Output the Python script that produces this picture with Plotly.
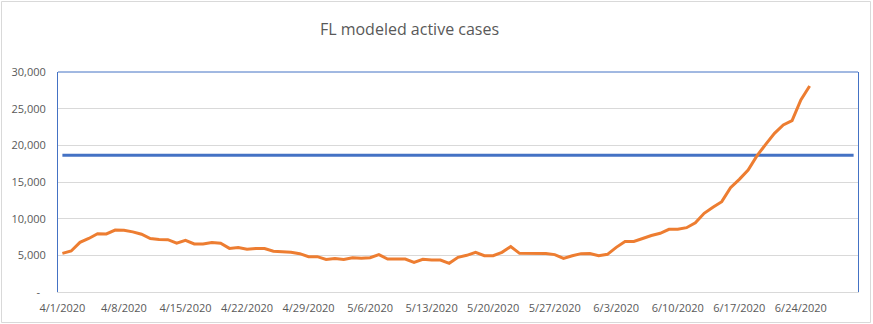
import pandas as pd
import plotly.graph_objects as go

# ---- data ----
start_date = "2020-04-01"
active_cases = [
    5270, 5590, 6770, 7300, 7940, 7910, 8440, 8410, 8200, 7880,
    7280, 7150, 7140, 6650, 7040, 6550, 6550, 6760, 6650, 5950,
    6060, 5830, 5930, 5920, 5560, 5540, 5420, 5230, 4820, 4820,
    4450, 4550, 4450, 4680, 4590, 4680, 5090, 4500, 4500, 4500,
    4050, 4450, 4360, 4360, 3910, 4730, 5000, 5410, 4950, 4950,
    5410, 6200, 5270, 5270, 5270, 5250, 5100, 4590, 4950, 5230,
    5250, 4950, 5140, 6090, 6900, 6900, 7290, 7700, 8000, 8550,
    8550, 8770, 9450, 10730, 11550, 12320, 14230, 15360, 16640, 18550,
    20140, 21640, 22770, 23360, 26180, 28090,
]
threshold_dates = ["2020-04-01", "2020-06-30"]
threshold_values = [18640, 18640]

y_tickvals = [0, 5000, 10000, 15000, 20000, 25000, 30000]
y_ticktext = ["-\u00a0\u00a0", "5,000", "10,000", "15,000", "20,000", "25,000", "30,000"]
x_tickvals = ["2020-04-01", "2020-04-08", "2020-04-15", "2020-04-22", "2020-04-29",
              "2020-05-06", "2020-05-13", "2020-05-20", "2020-05-27", "2020-06-03",
              "2020-06-10", "2020-06-17", "2020-06-24"]
x_ticktext = ["4/1/2020", "4/8/2020", "4/15/2020", "4/22/2020", "4/29/2020",
              "5/6/2020", "5/13/2020", "5/20/2020", "5/27/2020", "6/3/2020",
              "6/10/2020", "6/17/2020", "6/24/2020"]
title_text = "FL modeled active cases"

dates = pd.date_range(start_date, periods=len(active_cases), freq="D")

BLUE = "#4472C4"
ORANGE = "#ED7D31"
GRID = "#D9D9D9"
TEXT = "#595959"
FONT = "Open Sans"

fig = go.Figure()
fig.add_trace(go.Scatter(x=threshold_dates, y=threshold_values, mode="lines",
                         line=dict(color=BLUE, width=3), hoverinfo="skip"))
fig.add_trace(go.Scatter(x=dates, y=active_cases, mode="lines",
                         line=dict(color=ORANGE, width=3), hoverinfo="skip"))

L, R, T, B = 58, 15, 72, 32
W, H = 873, 324
pw, ph = W - L - R, H - T - B

def px(x):
    return (x - L) / pw

def py(y):
    return (H - B - y) / ph

fig.update_layout(
    width=W, height=H,
    margin=dict(l=L, r=R, t=T, b=B),
    paper_bgcolor="white", plot_bgcolor="white",
    showlegend=False,
    font=dict(family=FONT, color=TEXT, size=11),
    title=dict(text=title_text, x=409.5 / W, xref="container", xanchor="center",
               y=1 - 29 / H, yref="container", yanchor="middle",
               font=dict(family=FONT, size=16, color=TEXT)),
    xaxis=dict(range=["2020-03-31 12:00", "2020-06-30 12:00"],
               tickvals=x_tickvals, ticktext=x_ticktext, automargin=False,
               showgrid=False, zeroline=False,
               showline=True, linecolor=GRID, linewidth=1,
               ticks="", ticklabelstandoff=6,
               tickfont=dict(family=FONT, size=11, color=TEXT)),
    yaxis=dict(range=[0, 30000], tickvals=y_tickvals, ticktext=y_ticktext,
               automargin=False,
               showgrid=True, gridcolor=GRID, gridwidth=1, zeroline=False,
               showline=True, linecolor=BLUE, linewidth=1, mirror=True,
               ticks="", ticklabelstandoff=9,
               tickfont=dict(family=FONT, size=11, color=TEXT)),
    shapes=[
        dict(type="line", xref="paper", yref="paper", x0=0, x1=1, y0=1, y1=1,
             line=dict(color=BLUE, width=1)),
        dict(type="rect", xref="paper", yref="paper",
             x0=px(1.5), x1=px(870.5), y0=py(1.5), y1=py(322.5),
             line=dict(color=GRID, width=1), layer="below"),
    ],
)

fig.write_html("out.html", config={"displayModeBar": False})
